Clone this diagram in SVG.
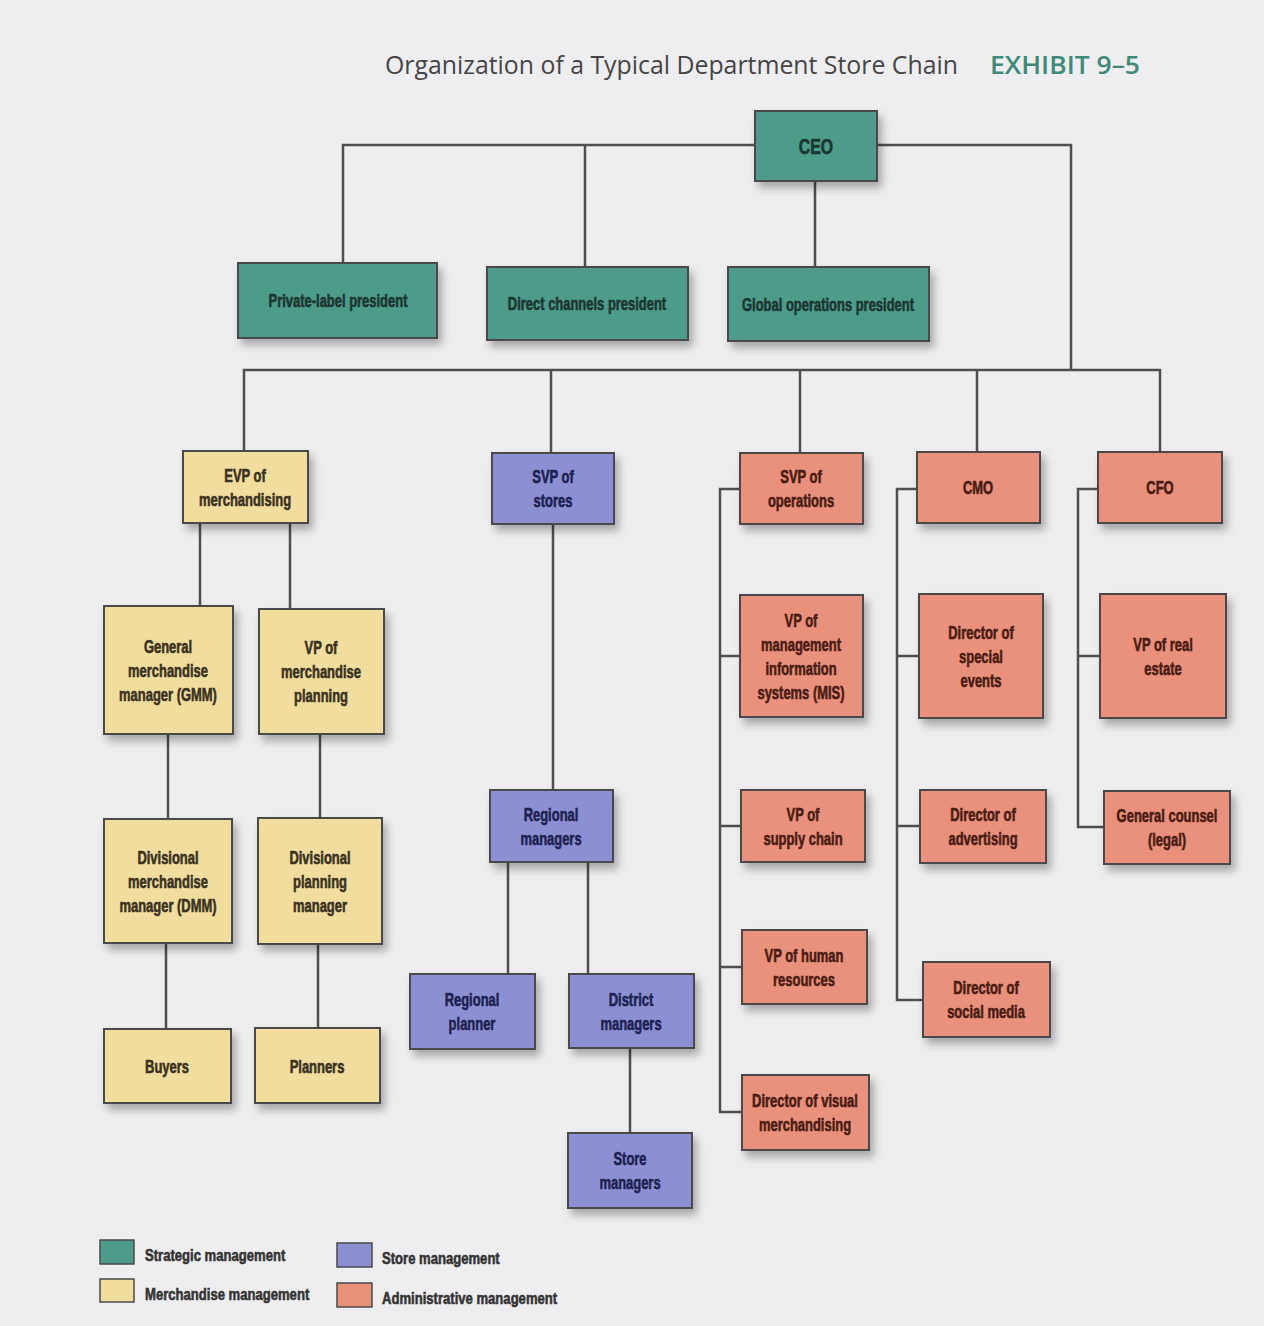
<svg xmlns="http://www.w3.org/2000/svg" width="1264" height="1326" viewBox="0 0 1264 1326">
<defs>
<filter id="sh" x="-20%" y="-20%" width="150%" height="150%">
<feDropShadow dx="4" dy="6" stdDeviation="4" flood-color="#000" flood-opacity="0.3"/>
</filter>
<style>
.b{stroke:#4a4a4a;stroke-width:2;filter:url(#sh)}
.s{fill:#4d9b89}.m{fill:#f1dd9e}.st{fill:#8c90d2}.a{fill:#e9917b}
text{font-family:"Liberation Sans",sans-serif;font-weight:bold;font-size:18px;text-anchor:middle;stroke-width:0.6}
.ts{fill:#1c3630;stroke:#1c3630}.tm{fill:#3a3120;stroke:#3a3120}.tst{fill:#1e2152;stroke:#1e2152}.ta{fill:#4a1c12;stroke:#4a1c12}
.c{fill:none;stroke:#4f4f4f;stroke-width:2.5}
.lg{text-anchor:start;font-size:17px;fill:#333;stroke:#333}
</style>
</defs>
<rect width="1264" height="1326" fill="#eeedf0"/>
<text x="385" y="74" textLength="573" lengthAdjust="spacingAndGlyphs" style="font-family:'Open Sans','Liberation Sans',sans-serif;font-weight:normal;font-size:25px;text-anchor:start;fill:#454545;stroke:none">Organization of a Typical Department Store Chain</text>
<text x="990" y="74" textLength="150" lengthAdjust="spacingAndGlyphs" style="font-family:'Open Sans','Liberation Sans',sans-serif;font-weight:600;font-size:26px;text-anchor:start;fill:#3f8a78;stroke:none">EXHIBIT 9–5</text>
<g id="connectors">
<path class="c" d="M343,264 V145 H755"/>
<path class="c" d="M877,145 H1071 V370"/>
<path class="c" d="M585,267 V145"/>
<path class="c" d="M815,181 V267"/>
<path class="c" d="M244,451 V370 H1160 V452"/>
<path class="c" d="M551,370 V453"/>
<path class="c" d="M800,370 V453"/>
<path class="c" d="M977,370 V452"/>
<path class="c" d="M200,523 V606"/>
<path class="c" d="M290,523 V609"/>
<path class="c" d="M168,734 V819"/>
<path class="c" d="M320,734 V818"/>
<path class="c" d="M166,943 V1029"/>
<path class="c" d="M318,944 V1028"/>
<path class="c" d="M553,524 V790"/>
<path class="c" d="M508,862 V974"/>
<path class="c" d="M588,862 V974"/>
<path class="c" d="M630,1048 V1133"/>
<path class="c" d="M740,489 H720 V1112 H742 M720,656 H740 M720,826 H741 M720,967 H742"/>
<path class="c" d="M917,489 H897 V1000 H923 M897,656 H919 M897,826 H920"/>
<path class="c" d="M1098,489 H1078 V827 H1104 M1078,656 H1100"/>
</g>
<g id="ceo"><rect class="b s" x="755" y="111" width="122" height="70"/><g transform="translate(816,0) scale(0.72,1)"><text class="ts" x="0" y="154" style="font-size:22px">CEO</text></g></g>
<g id="private-label"><rect class="b s" x="238" y="263" width="199" height="75"/><g transform="translate(338,0) scale(0.72,1)"><text class="ts" x="0" y="307">Private-label president</text></g></g>
<g id="direct-channels"><rect class="b s" x="487" y="267" width="201" height="73"/><g transform="translate(587,0) scale(0.72,1)"><text class="ts" x="0" y="310">Direct channels president</text></g></g>
<g id="global-ops"><rect class="b s" x="728" y="267" width="201" height="74"/><g transform="translate(828,0) scale(0.72,1)"><text class="ts" x="0" y="311">Global operations president</text></g></g>
<g id="evp-merch"><rect class="b m" x="183" y="451" width="125" height="72"/><g transform="translate(245,0) scale(0.72,1)"><text class="tm" x="0" y="482">EVP of</text><text class="tm" x="0" y="506">merchandising</text></g></g>
<g id="svp-stores"><rect class="b st" x="492" y="453" width="122" height="71"/><g transform="translate(553,0) scale(0.72,1)"><text class="tst" x="0" y="483">SVP of</text><text class="tst" x="0" y="507">stores</text></g></g>
<g id="svp-ops"><rect class="b a" x="740" y="453" width="123" height="71"/><g transform="translate(801,0) scale(0.72,1)"><text class="ta" x="0" y="483">SVP of</text><text class="ta" x="0" y="507">operations</text></g></g>
<g id="cmo"><rect class="b a" x="917" y="452" width="123" height="71"/><g transform="translate(978,0) scale(0.72,1)"><text class="ta" x="0" y="494">CMO</text></g></g>
<g id="cfo"><rect class="b a" x="1098" y="452" width="124" height="71"/><g transform="translate(1160,0) scale(0.72,1)"><text class="ta" x="0" y="494">CFO</text></g></g>
<g id="gmm"><rect class="b m" x="104" y="606" width="129" height="128"/><g transform="translate(168,0) scale(0.72,1)"><text class="tm" x="0" y="653">General</text><text class="tm" x="0" y="677">merchandise</text><text class="tm" x="0" y="701">manager (GMM)</text></g></g>
<g id="vp-merch-planning"><rect class="b m" x="259" y="609" width="125" height="125"/><g transform="translate(321,0) scale(0.72,1)"><text class="tm" x="0" y="654">VP of</text><text class="tm" x="0" y="678">merchandise</text><text class="tm" x="0" y="702">planning</text></g></g>
<g id="dmm"><rect class="b m" x="104" y="819" width="128" height="124"/><g transform="translate(168,0) scale(0.72,1)"><text class="tm" x="0" y="864">Divisional</text><text class="tm" x="0" y="888">merchandise</text><text class="tm" x="0" y="912">manager (DMM)</text></g></g>
<g id="div-planning"><rect class="b m" x="258" y="818" width="124" height="126"/><g transform="translate(320,0) scale(0.72,1)"><text class="tm" x="0" y="864">Divisional</text><text class="tm" x="0" y="888">planning</text><text class="tm" x="0" y="912">manager</text></g></g>
<g id="buyers"><rect class="b m" x="104" y="1029" width="127" height="74"/><g transform="translate(167,0) scale(0.72,1)"><text class="tm" x="0" y="1073">Buyers</text></g></g>
<g id="planners"><rect class="b m" x="255" y="1028" width="125" height="75"/><g transform="translate(317,0) scale(0.72,1)"><text class="tm" x="0" y="1073">Planners</text></g></g>
<g id="regional-managers"><rect class="b st" x="490" y="790" width="123" height="72"/><g transform="translate(551,0) scale(0.72,1)"><text class="tst" x="0" y="821">Regional</text><text class="tst" x="0" y="845">managers</text></g></g>
<g id="regional-planner"><rect class="b st" x="410" y="974" width="125" height="75"/><g transform="translate(472,0) scale(0.72,1)"><text class="tst" x="0" y="1006">Regional</text><text class="tst" x="0" y="1030">planner</text></g></g>
<g id="district-managers"><rect class="b st" x="569" y="974" width="125" height="74"/><g transform="translate(631,0) scale(0.72,1)"><text class="tst" x="0" y="1006">District</text><text class="tst" x="0" y="1030">managers</text></g></g>
<g id="store-managers"><rect class="b st" x="568" y="1133" width="124" height="75"/><g transform="translate(630,0) scale(0.72,1)"><text class="tst" x="0" y="1165">Store</text><text class="tst" x="0" y="1189">managers</text></g></g>
<g id="vp-mis"><rect class="b a" x="740" y="595" width="123" height="122"/><g transform="translate(801,0) scale(0.72,1)"><text class="ta" x="0" y="627">VP of</text><text class="ta" x="0" y="651">management</text><text class="ta" x="0" y="675">information</text><text class="ta" x="0" y="699">systems (MIS)</text></g></g>
<g id="vp-supply"><rect class="b a" x="741" y="790" width="124" height="72"/><g transform="translate(803,0) scale(0.72,1)"><text class="ta" x="0" y="821">VP of</text><text class="ta" x="0" y="845">supply chain</text></g></g>
<g id="vp-hr"><rect class="b a" x="742" y="930" width="125" height="74"/><g transform="translate(804,0) scale(0.72,1)"><text class="ta" x="0" y="962">VP of human</text><text class="ta" x="0" y="986">resources</text></g></g>
<g id="dir-visual"><rect class="b a" x="742" y="1075" width="127" height="75"/><g transform="translate(805,0) scale(0.72,1)"><text class="ta" x="0" y="1107">Director of visual</text><text class="ta" x="0" y="1131">merchandising</text></g></g>
<g id="dir-special"><rect class="b a" x="919" y="594" width="124" height="124"/><g transform="translate(981,0) scale(0.72,1)"><text class="ta" x="0" y="639">Director of</text><text class="ta" x="0" y="663">special</text><text class="ta" x="0" y="687">events</text></g></g>
<g id="dir-advertising"><rect class="b a" x="920" y="790" width="126" height="73"/><g transform="translate(983,0) scale(0.72,1)"><text class="ta" x="0" y="821">Director of</text><text class="ta" x="0" y="845">advertising</text></g></g>
<g id="dir-social"><rect class="b a" x="923" y="962" width="127" height="75"/><g transform="translate(986,0) scale(0.72,1)"><text class="ta" x="0" y="994">Director of</text><text class="ta" x="0" y="1018">social media</text></g></g>
<g id="vp-real-estate"><rect class="b a" x="1100" y="594" width="126" height="124"/><g transform="translate(1163,0) scale(0.72,1)"><text class="ta" x="0" y="651">VP of real</text><text class="ta" x="0" y="675">estate</text></g></g>
<g id="general-counsel"><rect class="b a" x="1104" y="791" width="126" height="73"/><g transform="translate(1167,0) scale(0.72,1)"><text class="ta" x="0" y="822">General counsel</text><text class="ta" x="0" y="846">(legal)</text></g></g>
<g id="legend">
<rect class="s" x="100" y="1240" width="34" height="24" stroke="#4a4a4a" stroke-width="1.5"/>
<rect class="m" x="100" y="1279" width="34" height="23" stroke="#4a4a4a" stroke-width="1.5"/>
<rect class="st" x="337" y="1243" width="35" height="24" stroke="#4a4a4a" stroke-width="1.5"/>
<rect class="a" x="337" y="1283" width="35" height="24" stroke="#4a4a4a" stroke-width="1.5"/>
<g transform="translate(145,0) scale(0.77,1)"><text class="lg" x="0" y="1261">Strategic management</text><text class="lg" x="0" y="1300">Merchandise management</text></g>
<g transform="translate(382,0) scale(0.77,1)"><text class="lg" x="0" y="1264">Store management</text><text class="lg" x="0" y="1304">Administrative management</text></g>
</g>
</svg>
